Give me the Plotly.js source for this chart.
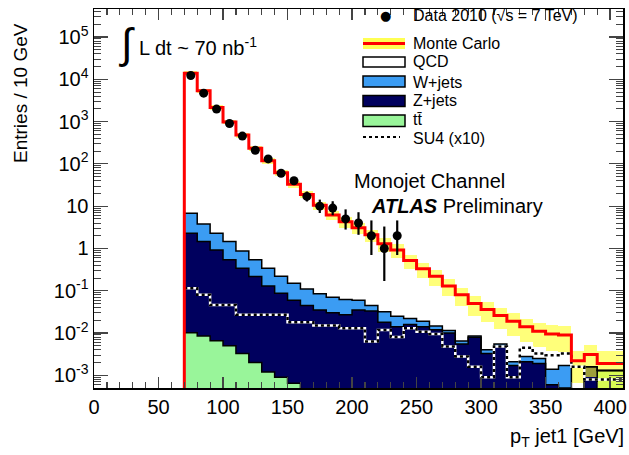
<!DOCTYPE html>
<html><head><meta charset="utf-8">
<script src="https://cdn.plot.ly/plotly-3.0.1.min.js"></script>
<style>html,body{margin:0;padding:0;background:#fff}#chart{width:629px;height:455px}</style>
</head><body><div id="chart"></div>
<script>
// ---------------- data ----------------
const binCenters = [75,85,95,105,115,125,135,145,155,165,175,185,195,205,215,225,235,245,255,265,275,285,295,305,315,325,335,345,355,365,375,385,395,405];
const binWidth = 10;
const mcTotal = [14000,5400,2150,980,480,235,118,62,33,19,10.5,6.2,4.3,3.1,2.1,1.3,0.92,0.52,0.33,0.22,0.13,0.08,0.05,0.036,0.026,0.019,0.014,0.011,0.0095,0.009,0.0022,0.0031,0.0019,0.0019];
const mcErrFrac = [0.12,0.12,0.12,0.12,0.13,0.14,0.15,0.16,0.18,0.2,0.22,0.25,0.28,0.3,0.32,0.35,0.35,0.38,0.4,0.4,0.42,0.45,0.5,0.5,0.52,0.55,0.55,0.58,0.6,0.6,0.7,0.7,0.95,0.95];
const ttbar = [0.0102,0.0085,0.0066,0.005,0.0033,0.002,0.0012,0.0009,0.00065,0,0,0,0,0,0,0,0,0,0,0,0,0,0,0,0,0,0,0,0,0,0,0,0.0013,0.0013];
const zjets = [2.29,1.45,0.913,0.535,0.337,0.214,0.129,0.086,0.059,0.045,0.035,0.03,0.027,0.035,0.033,0.018,0.014,0.016,0.014,0.012,0.010,0.0055,0.008,0.0033,0.0048,0.0017,0.0021,0.0019,0.0006,0.0005,0,0.0016,0,0];
const wjets = [4.5,2.34,1.38,0.92,0.53,0.324,0.21,0.133,0.09,0.065,0.05,0.04,0.035,0.025,0.012,0.014,0.011,0.006,0.005,0.0027,0.0015,0.001,0.0005,0.0007,0.0007,0.0004,0.0007,0.0006,0.0008,0.0012,0,0,0,0];
const su4x10 = [0.115,0.080,0.046,0.046,0.027,0.027,0.027,0.027,0.018,0.018,0.015,0.015,0.013,0.013,0.0063,0.0118,0.0081,0.0129,0.0107,0.0095,0.0048,0.0028,0.0016,0.0009,0.0048,0.0009,0.0045,0.0033,0.0030,0.0033,0.0016,0.0008,0.0008,0.0008];
const dataCenters = [75,85,95,105,115,125,135,145,155,165,175,185,195,205,215,225,235];
const dataCounts = [12300,4700,1980,900,455,210,131,60,40,17,10,9,5,4,2,1,2];
const dataErrUp = [111,69,44,30,21,14.5,11.5,8.8,7.4,5.2,4.3,4.1,3.4,3.2,2.6,2.3,2.6];
const dataErrDown = [111,69,44,30,21,14.5,11.5,7.7,6.3,4.1,3.1,2.9,2.2,1.9,1.3,0.83,1.3];
const xTickVals = [0,50,100,150,200,250,300,350,400];
const yTickVals = [1e-3,1e-2,1e-1,1,10,100,1000,1e4,1e5];
const yTickText = ['10<sup>-3</sup>','10<sup>-2</sup>','10<sup>-1</sup>','1','10','10<sup>2</sup>','10<sup>3</sup>','10<sup>4</sup>','10<sup>5</sup>'];

// ---------------- derived ----------------
const FLOOR = 1e-5; // empty bin, below the axis
const edges = binCenters.map(c => c - binWidth / 2).concat([binCenters[binCenters.length - 1] + binWidth / 2]);
const cumTT = ttbar.slice();
const cumZ = ttbar.map((v, i) => v + zjets[i]);
const cumW = cumZ.map((v, i) => v + wjets[i]);
function stepY(vals) { const y = vals.map(v => v > 0 ? v : FLOOR); y.push(y[y.length - 1]); return y; }
const bandLo = mcTotal.map((v, i) => Math.max(v * (1 - mcErrFrac[i]), FLOOR));
const bandHi = mcTotal.map((v, i) => v * (1 + mcErrFrac[i]));

const FONT = 'Liberation Sans, Arial, Helvetica, sans-serif';
const C_W = '#3b9cf3', C_Z = '#00005e', C_T = '#99f59a', C_Y = 'rgba(255,255,40,0.62)';

function bars(vals, color) {
  return {type: 'bar', x: binCenters, y: vals.map(v => v > 0 ? v : null), width: binWidth,
    marker: {color: color, line: {width: 0}}, showlegend: false, hoverinfo: 'skip'};
}
function outline(vals, color, w) {
  return {type: 'scatter', mode: 'lines', x: edges, y: stepY(vals), line: {shape: 'hv', color: color, width: w},
    showlegend: false, hoverinfo: 'skip'};
}

const traces = [
  bars(cumW, C_W), bars(cumZ, C_Z), bars(cumTT, C_T),
  outline(cumW, '#000', 1.5), outline(cumZ, '#000', 1.5), outline(cumTT, '#000', 1.5),
  {type: 'scatter', mode: 'lines', x: edges, y: stepY(su4x10), line: {shape: 'hv', color: '#fff', width: 2.5}, showlegend: false, hoverinfo: 'skip'},
  {type: 'scatter', mode: 'lines', x: edges, y: stepY(su4x10), line: {shape: 'hv', color: '#000', width: 2.5, dash: 'dot'}, showlegend: false, hoverinfo: 'skip'},
  {type: 'bar', x: binCenters, base: bandLo, y: bandHi.map((h, i) => h - bandLo[i]), width: binWidth,
    marker: {color: C_Y, line: {width: 0}}, showlegend: false, hoverinfo: 'skip'},
  {type: 'scatter', mode: 'lines', x: [edges[0]].concat(edges), y: [FLOOR].concat(stepY(mcTotal)),
    line: {shape: 'hv', color: '#ff0000', width: 3}, showlegend: false, hoverinfo: 'skip'},
  {type: 'scatter', mode: 'markers', x: dataCenters, y: dataCounts,
    marker: {color: '#000', size: 9, symbol: 'circle'},
    error_y: {type: 'data', symmetric: false, array: dataErrUp, arrayminus: dataErrDown, color: '#000', thickness: 2.2, width: 0},
    showlegend: false, hoverinfo: 'skip'}
];

// plot-area pixel helpers for the annotations / legend
const PL = 94, PR = 623, PT = 9, PB = 388;
const fx = px => (px - PL) / (PR - PL);
const fy = py => (PB - py) / (PB - PT);

const shapes = [];
const annotations = [];
function txt(s, px, py, size, extra) {
  annotations.push(Object.assign({text: s, x: fx(px), y: fy(py), xref: 'paper', yref: 'paper', showarrow: false,
    xanchor: 'left', yanchor: 'middle', font: {family: FONT, size: size, color: '#000'}}, extra || {}));
}
function box(x0, x1, y0, y1, fill, lw) {
  shapes.push({type: 'rect', xref: 'paper', yref: 'paper', x0: fx(x0), x1: fx(x1), y0: fy(y1), y1: fy(y0),
    fillcolor: fill, line: {color: '#000', width: lw}});
}
// legend
const LX0 = 363, LX1 = 405, TX = 411;
txt('●', 385, 15, 13, {xanchor: 'center', font: {family: 'DejaVu Sans', size: 13, color: '#000'}});
txt('Data 2010 (√s = 7 TeV)', TX, 15, 16);
box(LX0, LX1, 38, 49, 'rgba(255,255,40,0.8)', 0);
shapes.push({type: 'line', xref: 'paper', yref: 'paper', x0: fx(LX0), x1: fx(LX1), y0: fy(43.5), y1: fy(43.5), line: {color: '#ff0000', width: 3}});
txt('Monte Carlo', TX, 44, 16);
box(LX0, LX1, 57, 67, '#fff', 1.5);
txt('QCD', TX, 62, 16);
box(LX0, LX1, 76, 87, C_W, 1.5);
txt('W+jets', TX, 82, 16);
box(LX0, LX1, 95.5, 106.5, C_Z, 1.5);
txt('Z+jets', TX, 101, 16);
box(LX0, LX1, 115, 126.5, C_T, 1.5);
txt('tt\u0304', TX, 119, 16);
shapes.push({type: 'line', xref: 'paper', yref: 'paper', x0: fx(LX0), x1: fx(400), y0: fy(137), y1: fy(137), line: {color: '#000', width: 2, dash: 'dot'}});
txt('SU4 (x10)', TX, 138, 16);
// labels
txt('Monojet Channel', 352, 181, 20);
txt('<b><i>ATLAS</i></b> Preliminary', 369, 206, 20);
txt('∫', 127, 44, 42, {xanchor: 'center'});
txt('L dt ~ 70 nb<sup>-1</sup>', 137, 47, 20);
// axis titles
txt('Entries / 10 GeV', 20, 93, 19, {xanchor: 'center', textangle: -90});
txt('p<sub>T</sub> jet1 [GeV]', 626, 437, 20, {xanchor: 'right'});

const minorY = [];
for (let e = -4; e <= 5; e++) for (let m = 2; m <= 9; m++) minorY.push(m * Math.pow(10, e));

const layout = {
  width: 629, height: 455,
  margin: {l: PL, r: 629 - PR, t: PT, b: 455 - PB, pad: 0},
  paper_bgcolor: '#fff', plot_bgcolor: '#fff',
  barmode: 'overlay', bargap: 0, showlegend: false,
  font: {family: FONT, size: 20, color: '#000'},
  xaxis: {range: [0, 410], tickvals: xTickVals, tickmode: 'array', ticks: 'inside', ticklen: 11, tickwidth: 1.2,
    showline: true, linecolor: '#000', linewidth: 1.5, mirror: 'allticks', showgrid: false, zeroline: false,
    tickfont: {family: FONT, size: 20},
    minor: {dtick: 10, tick0: 0, ticks: 'inside', ticklen: 6, tickwidth: 1.2, showgrid: false}},
  yaxis: {type: 'log', range: [-3.30, 5.663], tickmode: 'array', tickvals: yTickVals, ticktext: yTickText,
    ticks: 'inside', ticklen: 14, tickwidth: 1.2, showline: true, linecolor: '#000', linewidth: 1.5, mirror: 'allticks',
    showgrid: false, zeroline: false, tickfont: {family: FONT, size: 20},
    minor: {tickmode: 'array', tickvals: minorY, ticks: 'inside', ticklen: 7, tickwidth: 1, showgrid: false}},
  shapes: shapes, annotations: annotations
};
Plotly.newPlot('chart', traces, layout, {staticPlot: true, displayModeBar: false});
</script></body></html>
